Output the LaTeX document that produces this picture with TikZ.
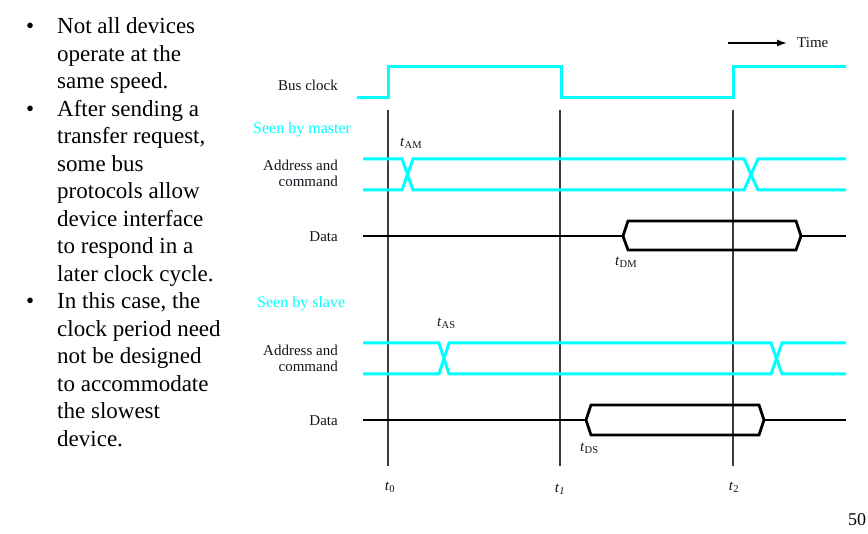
\documentclass[tikz,border=0pt]{standalone}
\usepackage{fontspec}
\setmainfont{Liberation Serif}
\usetikzlibrary{arrows.meta}
\definecolor{sig}{RGB}{0,255,255}
\definecolor{grid}{RGB}{60,60,60}
\definecolor{ink}{RGB}{20,20,30}
\tikzset{
  body/.style={anchor=base west, inner sep=0pt, font=\fontsize{23}{27.5}\selectfont},
  lbl/.style={inner sep=0pt, text=ink, font=\fontsize{15}{16}\selectfont},
  seen/.style={inner sep=0pt, text=sig, anchor=west, font=\fontsize{16}{18}\selectfont},
  tlbl/.style={inner sep=0pt, anchor=west, text=ink, font=\fontsize{15}{16}\selectfont},
  wave/.style={draw=sig, line width=3pt, line join=miter},
  datawave/.style={draw=black, line width=2.8pt, line join=miter},
  tick/.style={draw=grid, line width=1.1pt}
}
\begin{document}
\begin{tikzpicture}[x=1pt,y=-1pt]
\useasboundingbox[fill=white] (0,0) rectangle (868,534);

% left column text
\node[body] (b1) at (26,34) {•};
\node[body] (l1) at (57,34) {Not all devices};
\node[body] (l2) at (57,61.5) {operate at the};
\node[body] (l3) at (57,89) {same speed.};
\node[body] (b2) at (26,116.5) {•};
\node[body] (l4) at (57,116.5) {After sending a};
\node[body] (l5) at (57,144) {transfer request,};
\node[body] (l6) at (57,171.5) {some bus};
\node[body] (l7) at (57,199) {protocols allow};
\node[body] (l8) at (57,226.5) {device interface};
\node[body] (l9) at (57,254) {to respond in a};
\node[body] (l10) at (57,281.5) {later clock cycle.};
\node[body] (b3) at (26,309) {•};
\node[body] (l11) at (57,309) {In this case, the};
\node[body] (l12) at (57,336.5) {clock period need};
\node[body] (l13) at (57,364) {not be designed};
\node[body] (l14) at (57,391.5) {to accommodate};
\node[body] (l15) at (57,419) {the slowest};
\node[body] (l16) at (57,446.5) {device.};

% time arrow
\node[lbl, anchor=west] (time) at (797,43) {Time};
\coordinate (tstart) at (728,43);
\draw[line width=1.5pt, -{Latex[length=10pt,width=7pt]}] (tstart) -- ([xshift=-10pt]time.west);

% signal labels
\node[lbl, anchor=east] (busclk) at (338,85) {Bus clock};
\node[seen] (seenm) at (253,130) {Seen by master};
\node[lbl, anchor=east, align=right] (addrm) at (338,173) {Address and\\command};
\node[lbl, anchor=east] (datam) at (338,237) {Data};
\node[seen] (seens) at (257,304) {Seen by slave};
\node[lbl, anchor=east, align=right] (addrs) at (338,358) {Address and\\command};
\node[lbl, anchor=east] (datas) at (338,421) {Data};

% timing labels
\node[tlbl] (tam) at (400,143) {\textit{t}\textsubscript{AM}};
\node[tlbl] (tdm) at (615,262) {\textit{t}\textsubscript{DM}};
\node[tlbl] (tas) at (437,323) {\textit{t}\textsubscript{AS}};
\node[tlbl] (tds) at (580,448) {\textit{t}\textsubscript{DS}};
\node[lbl] (t0) at (390,487) {\textit{t}\textsubscript{0}};
\node[lbl] (t1) at (560,489) {\textit{t}\textsubscript{\textit{1}}};
\node[lbl] (t2) at (734,487) {\textit{t}\textsubscript{2}};
\node[inner sep=0pt, font=\fontsize{18}{20}\selectfont] (pg) at (857,520) {50};

% vertical time markers
\draw[tick] (388,110) -- (388,466);
\draw[tick] (560,110) -- (560,466);
\draw[tick] (733,110) -- (733,466);

% bus clock
\draw[wave] (357,98) -- (388,98) -- (388,67) -- (561,67) -- (561,98) -- (733,98) -- (733,67) -- (846,67);

% master address/command
\draw[wave] (363,159) -- (402,159) -- (413,190) -- (744,190) -- (758,159) -- (846,159);
\draw[wave] (363,190) -- (402,190) -- (413,159) -- (744,159) -- (758,190) -- (846,190);

% master data
\draw[datawave] (363,236) -- (623,236);
\draw[datawave] (623,236) -- (628,221) -- (796,221) -- (801,236) -- (796,250) -- (628,250) -- cycle;
\draw[datawave] (801,236) -- (846,236);

% slave address/command
\draw[wave] (363,343) -- (439,343) -- (449,374) -- (771,374) -- (782,343) -- (846,343);
\draw[wave] (363,374) -- (439,374) -- (449,343) -- (771,343) -- (782,374) -- (846,374);

% slave data
\draw[datawave] (363,420) -- (586,420);
\draw[datawave] (586,420) -- (591,405) -- (759,405) -- (764,420) -- (759,435) -- (591,435) -- cycle;
\draw[datawave] (764,420) -- (846,420);
\end{tikzpicture}
\end{document}
